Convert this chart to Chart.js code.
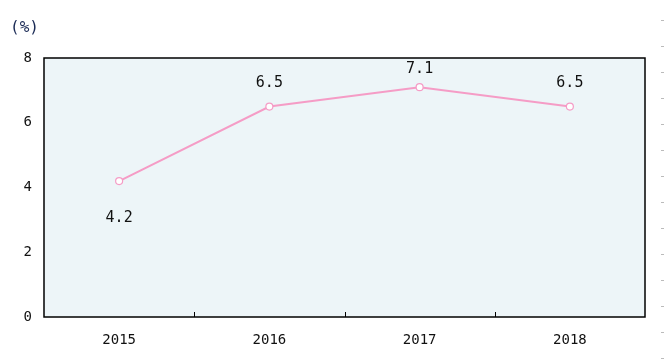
<!DOCTYPE html>
<html>
<head>
<meta charset="utf-8">
<script src="https://cdn.jsdelivr.net/npm/chart.js@4.4.1/dist/chart.umd.min.js"></script>
<style>
  html,body{margin:0;padding:0;background:#fff;}
  #wrap{width:664px;height:361px;position:relative;}
</style>
</head>
<body>
<div id="wrap"><canvas id="c"></canvas></div>
<script>
/* ===== Data ===== */
const years = ['2015','2016','2017','2018'];
const growth = [4.2, 6.5, 7.1, 6.5];
const yTicks = [0, 2, 4, 6, 8];
const unitLabel = '(%)';

const PINK = '#f59cc6';
const FONT = '"DejaVu Sans Mono", monospace';

/* ===== Plugins ===== */
const frame = {
  id:'frame',
  beforeDraw(chart){
    const {ctx, chartArea:a} = chart;
    ctx.save();
    ctx.fillStyle = '#edf5f8';
    ctx.fillRect(a.left, a.top, a.right-a.left, a.bottom-a.top);
    ctx.restore();
  },
  afterDraw(chart){
    const {ctx, chartArea:a, scales} = chart;
    ctx.save();
    ctx.strokeStyle = '#000'; ctx.lineWidth = 1.5;
    ctx.strokeRect(a.left, a.top, a.right-a.left, a.bottom-a.top);
    // category separator ticks on the bottom edge
    const x = scales.x, half = (x.getPixelForValue(1)-x.getPixelForValue(0))/2;
    ctx.lineWidth = 1;
    for(let i=0;i<years.length-1;i++){
      const px = Math.round(x.getPixelForValue(i)+half)+0.5;
      ctx.beginPath(); ctx.moveTo(px, a.bottom); ctx.lineTo(px, a.bottom-5); ctx.stroke();
    }
    // unit label
    ctx.fillStyle = '#1a2a55'; ctx.font = '16px '+FONT;
    ctx.textAlign = 'left'; ctx.textBaseline = 'middle';
    ctx.fillText(unitLabel, 10, 28);
    // faint dashes at the right edge
    ctx.strokeStyle = '#bbb';
    for(let y=20;y<361;y+=26){ ctx.beginPath(); ctx.moveTo(661,y+0.5); ctx.lineTo(664,y+0.5); ctx.stroke(); }
    ctx.restore();
  }
};

const valueLabels = {
  id:'valueLabels',
  afterDatasetsDraw(chart){
    const {ctx, chartArea:a} = chart;
    const meta = chart.getDatasetMeta(0);
    ctx.save();
    ctx.fillStyle = '#111'; ctx.font = '15px '+FONT;
    ctx.textAlign = 'center'; ctx.textBaseline = 'middle';
    meta.data.forEach((pt,i)=>{
      const v = growth[i];
      let y = v < 5 ? pt.y+37 : pt.y-23;
      y = Math.max(y, a.top+11);
      ctx.fillText(v.toFixed(1), pt.x, y);
    });
    ctx.restore();
  }
};

/* ===== Chart ===== */
new Chart(document.getElementById('c'), {
  type:'line',
  data:{ labels:years, datasets:[{
    data:growth,
    borderColor:PINK, borderWidth:2,
    pointRadius:3.5, pointBorderWidth:1.2,
    pointBackgroundColor:'#fff', pointBorderColor:PINK,
    tension:0
  }]},
  options:{
    responsive:true, maintainAspectRatio:false, animation:false,
    layout:{ padding:{ top:58, right:19, left:0, bottom:0 } },
    plugins:{ legend:{display:false}, tooltip:{enabled:false} },
    scales:{
      x:{
        offset:true,
        grid:{ display:false, drawTicks:false },
        border:{ display:false },
        ticks:{ color:'#111', font:{family:FONT, size:14}, padding:15 },
        afterFit(s){ s.height = 44; }
      },
      y:{
        min:0, max:8,
        afterBuildTicks(s){ s.ticks = yTicks.map(v=>({value:v})); },
        grid:{ display:false, drawTicks:false },
        border:{ display:false },
        ticks:{ color:'#111', font:{family:FONT, size:14}, padding:12 },
        afterFit(s){ s.width = 44; }
      }
    }
  },
  plugins:[frame, valueLabels]
});
</script>
</body>
</html>
